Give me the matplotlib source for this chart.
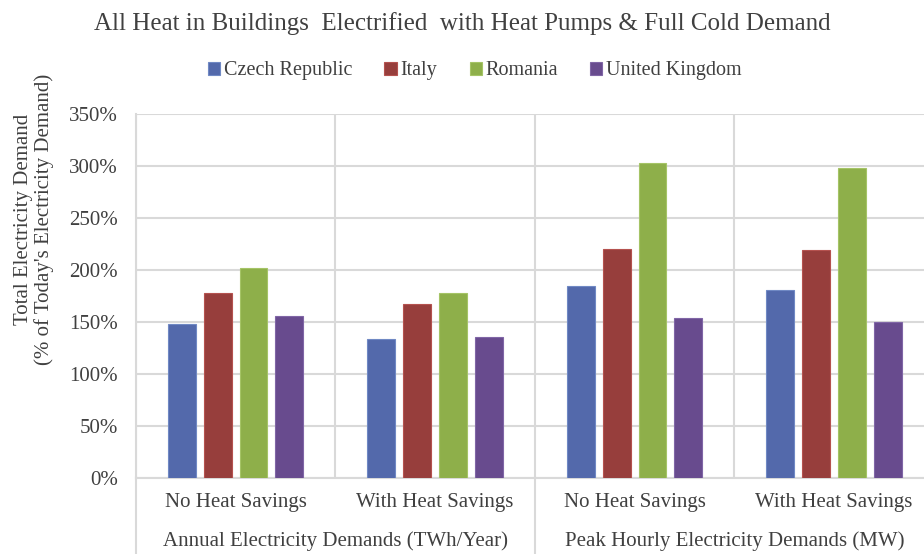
import matplotlib
matplotlib.use("Agg")
import matplotlib.pyplot as plt
import matplotlib.transforms as mtransforms
import numpy as np

plt.rcParams['font.family'] = ['Liberation Serif', 'DejaVu Serif']

# Data
countries = ["Czech Republic", "Italy", "Romania", "United Kingdom"]
scenarios = ["No Heat Savings", "With Heat Savings", "No Heat Savings", "With Heat Savings"]
groups = ["Annual Electricity Demands (TWh/Year)", "Peak Hourly Electricity Demands (MW)"]
czech = [148, 133, 184, 181]
italy = [178, 167, 220, 219]
romania = [202, 178, 303, 298]
uk = [156, 135, 154, 150]
series = [czech, italy, romania, uk]
yticks = [0, 50, 100, 150, 200, 250, 300, 350]

colors = ["#5369AB", "#973E3C", "#8EAF4A", "#684B8E"]
edges = ["#7089C4", "#B5524F", "#A5C466", "#8066A6"]
text_color = "#404040"
grid_color = "#D9D9D9"
fs = 15

fig = plt.figure(figsize=(9.24, 5.54), dpi=100)
ax = fig.add_axes([0.147, 0.138, 0.8636, 0.656])

x = np.arange(len(scenarios))
bar_w = 0.14
step = 0.18
offsets = (np.arange(len(countries)) - 1.5) * step
for vals, off, c, e, name in zip(series, offsets, colors, edges, countries):
    ax.bar(x + off, vals, width=bar_w, color=c, edgecolor=e, linewidth=0.8,
           label=name, zorder=3)

ax.set_xlim(-0.5, len(scenarios) - 0.5)
ax.set_ylim(0, 350)
ax.set_yticks(yticks)
ax.set_yticklabels([f"{v}%" for v in yticks], fontsize=fs, color=text_color)
ax.set_xticks(x)
ax.set_xticklabels(scenarios, fontsize=fs, color=text_color)
ax.tick_params(axis='x', length=0, pad=11)
ax.tick_params(axis='y', length=0, pad=13)

ax.grid(axis='y', color=grid_color, linewidth=1.5, zorder=0)
for b in np.arange(-0.5, len(scenarios), 1.0):
    ax.axvline(b, color=grid_color, linewidth=1.5, zorder=0)
for s in ["top", "right"]:
    ax.spines[s].set_visible(False)
for s in ["left", "bottom"]:
    ax.spines[s].set_color(grid_color)
    ax.spines[s].set_linewidth(1.5)

# group labels and separators below the axis
trans = mtransforms.blended_transform_factory(ax.transData, ax.transAxes)
for i, g in enumerate(groups):
    ax.text(2 * i + 0.5, -0.175, g, transform=trans, ha='center', va='center',
            fontsize=fs, color=text_color)
for b in [-0.5, 1.5, 3.5]:
    ax.plot([b, b], [0, -0.22], transform=trans, color=grid_color,
            linewidth=1.5, clip_on=False)

ax.set_ylabel("Total Electricity Demand\n(% of Today's Electricity Demand)",
              fontsize=fs, color=text_color, linespacing=1.05)
ax.yaxis.set_label_coords(-0.103, 0.71)

fig.text(0.5, 0.958, "All Heat in Buildings  Electrified  with Heat Pumps & Full Cold Demand",
         ha='center', va='center', fontsize=18, color=text_color)
fig.legend(loc='center', bbox_to_anchor=(0.514, 0.872), ncol=4, frameon=False,
           fontsize=14.5, handlelength=0.6, handleheight=0.6, handletextpad=0.2,
           columnspacing=1.6, labelcolor=text_color)

fig.savefig("out.png", dpi=100)
